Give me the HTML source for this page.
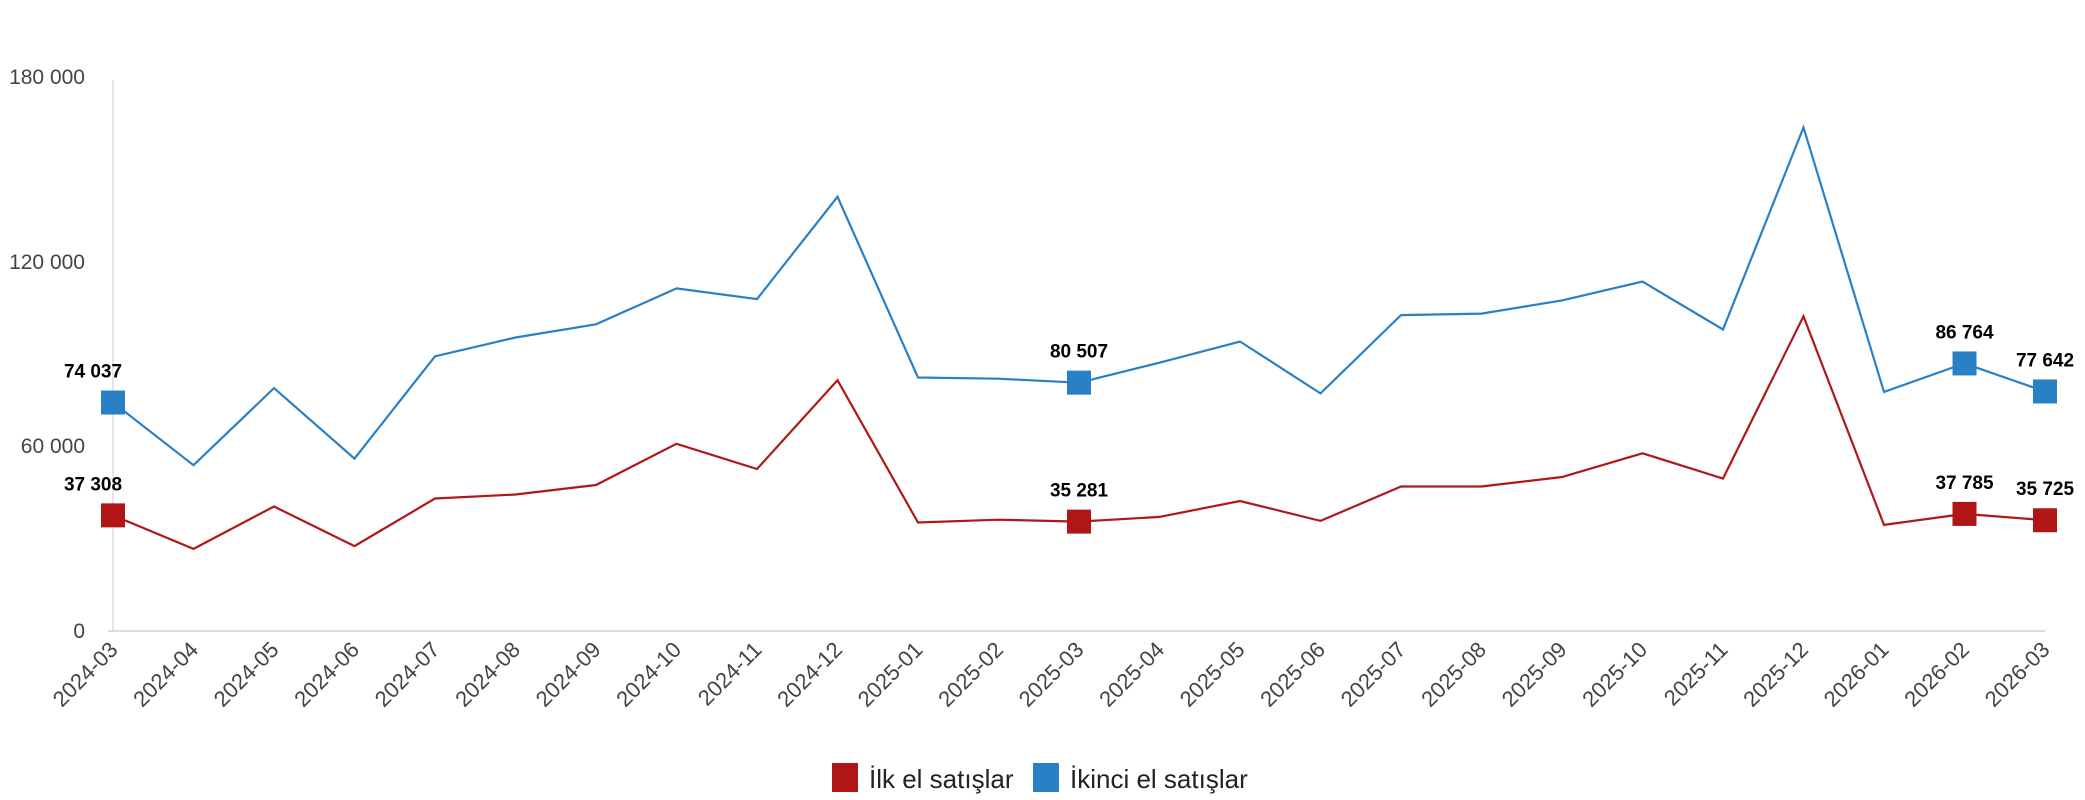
<!DOCTYPE html>
<html><head><meta charset="utf-8"><style>
html,body{margin:0;padding:0;background:#fff;}
svg{display:block;font-family:"Liberation Sans",sans-serif;}
</style></head><body>
<svg width="2085" height="800" viewBox="0 0 2085 800" xmlns="http://www.w3.org/2000/svg">
<line x1="113" y1="80" x2="113" y2="631" stroke="#e3e6ee" stroke-width="2"/>
<line x1="108" y1="631" x2="2045" y2="631" stroke="#dddddd" stroke-width="2"/>
<g font-size="21" fill="#444" text-anchor="end">
<text x="85" y="84">180 000</text>
<text x="85" y="269">120 000</text>
<text x="85" y="453">60 000</text>
<text x="85" y="638">0</text>
</g>
<g id="xl" font-size="22" fill="#444" text-anchor="end"></g>
<polyline id="blue" fill="none" stroke="#2a80c5" stroke-width="2.2"/>
<polyline id="red" fill="none" stroke="#b01818" stroke-width="2.2"/>
<g id="mk"></g>
<g font-size="26" fill="#222">
<rect x="832" y="763" width="26" height="29" fill="#b01616"/>
<text x="869" y="788">İlk el satışlar</text>
<rect x="1033" y="763" width="26" height="29" fill="#2a80c5"/>
<text x="1070" y="788">İkinci el satışlar</text>
</g>
<script>
var blue=[74037,53650,78750,55800,89100,95200,99500,111200,107700,141000,82200,81800,80507,87000,93900,77000,102500,103000,107300,113400,97800,163600,77500,86764,77642];
var red=[37308,26400,40200,27300,42800,44100,47200,60600,52400,81300,35000,35900,35281,36800,42000,35500,46700,46700,49800,57500,49300,102100,34200,37785,35725];
var labels=[];
for(var i=0;i<25;i++){var m=(2+i)%12+1,y=2024+Math.floor((2+i)/12);labels.push(y+"-"+(m<10?"0":"")+m);}
function X(i){return 113+i*80.5;}
function Y(v){return 630-v/180000*553;}
var ns="http://www.w3.org/2000/svg";
function pts(a){return a.map(function(v,i){return X(i).toFixed(1)+","+Y(v).toFixed(1);}).join(" ");}
document.getElementById("blue").setAttribute("points",pts(blue));
document.getElementById("red").setAttribute("points",pts(red));
var xl=document.getElementById("xl");
labels.forEach(function(l,i){var t=document.createElementNS(ns,"text");var x=X(i)+6,y=651;t.setAttribute("x",x);t.setAttribute("y",y);t.setAttribute("transform","rotate(-45 "+x+" "+y+")");t.textContent=l;xl.appendChild(t);});
var mk=document.getElementById("mk");
function fmt(v){var s=String(v);return s.slice(0,s.length-3)+" "+s.slice(-3);}
[0,12,23,24].forEach(function(i){
 [[blue,"#2a80c5"],[red,"#b01616"]].forEach(function(p){
  var v=p[0][i],x=X(i),y=Y(v);
  var r=document.createElementNS(ns,"rect");r.setAttribute("x",x-12);r.setAttribute("y",y-12);r.setAttribute("width",24);r.setAttribute("height",24);r.setAttribute("fill",p[1]);mk.appendChild(r);
  var t=document.createElementNS(ns,"text");t.setAttribute("x",i==0?x-20:x);t.setAttribute("y",y-25);t.setAttribute("text-anchor","middle");t.setAttribute("font-size","19");t.setAttribute("font-weight","bold");t.setAttribute("fill","#000");t.textContent=fmt(v);mk.appendChild(t);
 });
});
</script>
</svg>
</body></html>
